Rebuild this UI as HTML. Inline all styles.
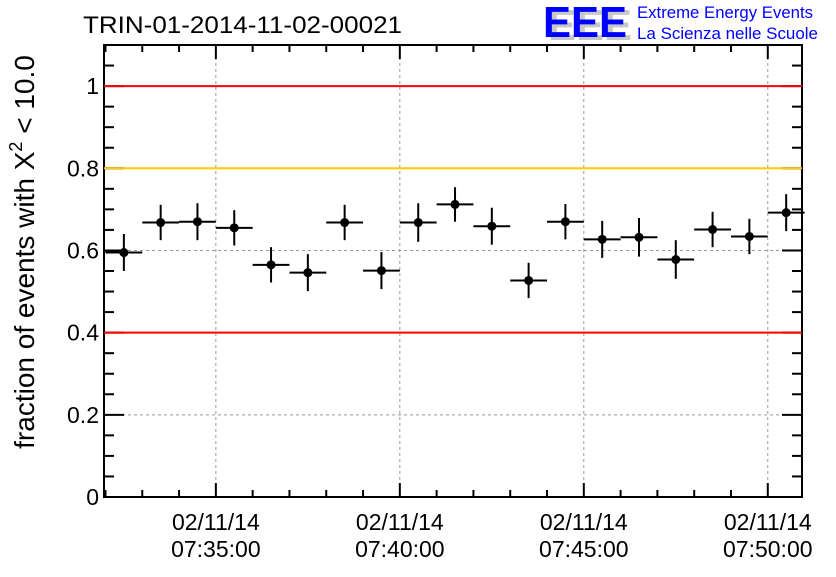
<!DOCTYPE html>
<html><head><meta charset="utf-8"><style>
body{margin:0;background:#fff;}
svg text{font-family:"Liberation Sans",sans-serif;}
</style></head><body>
<svg id="chart" width="836" height="572" xmlns="http://www.w3.org/2000/svg">
<rect width="836" height="572" fill="#fff"/>
<text x="83" y="33" font-size="24" textLength="319" lengthAdjust="spacingAndGlyphs">TRIN-01-2014-11-02-00021</text>
<g>
<text x="548" y="40" font-size="44" font-weight="bold" fill="#c8c8c8" textLength="84" lengthAdjust="spacingAndGlyphs">EEE</text>
<text x="543" y="37" font-size="44" font-weight="bold" fill="#0000ff" textLength="84" lengthAdjust="spacingAndGlyphs">EEE</text>
<text x="637" y="18" font-size="17" fill="#0000ff" textLength="176" lengthAdjust="spacingAndGlyphs">Extreme Energy Events</text>
<text x="637" y="39" font-size="17" fill="#0000ff" textLength="181" lengthAdjust="spacingAndGlyphs">La Scienza nelle Scuole</text>
</g>
<text transform="translate(34,252) rotate(-90)" text-anchor="middle" font-size="28">fraction of events with X<tspan dy="-12" font-size="18">2</tspan><tspan dy="12"> &lt; 10.0</tspan></text>
<g id="grid"></g><g id="axes"></g><g id="refs"></g><g id="marks"></g>
</svg>
<script>
const values=[0.595,0.668,0.670,0.655,0.565,0.546,0.668,0.551,0.668,0.712,0.659,0.527,0.670,0.627,0.632,0.578,0.651,0.634,0.692];
const errors=[0.045,0.043,0.045,0.043,0.043,0.045,0.043,0.045,0.047,0.042,0.045,0.043,0.043,0.045,0.047,0.047,0.043,0.043,0.045];
const yTicks=[0,0.2,0.4,0.6,0.8,1];
const yTickLabels=["0","0.2","0.4","0.6","0.8","1"];
const xTickMinutes=[35,40,45,50];
const xTickLabels=["07:35:00","07:40:00","07:45:00","07:50:00"];
const refLines=[1.0,0.8,0.4];
const refColors=["#ff0000","#ffcc00","#ff0000"];
const X0=104,X1=802,Y0=497,Y1=45;
const tMin=31.96, tMax=50.93;
const xs=t=>X0+(t-tMin)/(tMax-tMin)*(X1-X0);
const ys=v=>Y0-(v-0)/(1.1-0)*(Y0-Y1);
const NS="http://www.w3.org/2000/svg";
function mk(tag,parent,attrs){const e=document.createElementNS(NS,tag);for(const k in attrs)e.setAttribute(k,attrs[k]);document.getElementById(parent).appendChild(e);return e;}
xTickMinutes.forEach(m=>{const g=mk('line','grid',{x1:xs(m),x2:xs(m),y1:Y1,y2:Y0,stroke:'#999','stroke-dasharray':'3,3'});

});
yTicks.forEach(v=>{if(v>0&&v<1){const g=mk('line','grid',{x1:X0,x2:X1,y1:ys(v),y2:ys(v),stroke:'#999','stroke-dasharray':'3,3'});

}});
const fr=mk('rect','axes',{x:X0,y:Y1,width:X1-X0,height:Y0-Y1,fill:'none',stroke:'#000','stroke-width':2});


for(let v=0;v<=1.1001;v+=0.05){const big=Math.abs(v/0.2-Math.round(v/0.2))<1e-6;const L=big?20:10;
mk('line','axes',{x1:X0,x2:X0+L,y1:ys(v),y2:ys(v),stroke:'#000','stroke-width':2});
mk('line','axes',{x1:X1,x2:X1-L,y1:ys(v),y2:ys(v),stroke:'#000','stroke-width':2});}
for(let m=32;m<=50;m++){const big=m%5===0;const L=big?14:7;
mk('line','axes',{x1:xs(m),x2:xs(m),y1:Y0,y2:Y0-L,stroke:'#000','stroke-width':2});
mk('line','axes',{x1:xs(m),x2:xs(m),y1:Y1,y2:Y1+L,stroke:'#000','stroke-width':2});}
yTicks.forEach((v,i)=>{const t=mk('text','axes',{x:X0-5,y:ys(v)+8,'text-anchor':'end','font-size':23});t.textContent=yTickLabels[i];

});
xTickMinutes.forEach((m,i)=>{const t=mk('text','axes',{x:xs(m),y:530,'text-anchor':'middle','font-size':23});t.textContent='02/11/14';


const t2=mk('text','axes',{x:xs(m),y:557,'text-anchor':'middle','font-size':23});t2.textContent=xTickLabels[i];

});
refLines.forEach((v,i)=>{const l=mk('line','refs',{x1:X0,x2:X1,y1:ys(v),y2:ys(v),stroke:refColors[i],'stroke-width':2});

});
values.forEach((v,i)=>{const c=32.5+i;const cx=xs(c),cy=ys(v);
const h=mk('line','marks',{x1:xs(c-0.5),x2:xs(c+0.5),y1:cy,y2:cy,stroke:'#000','stroke-width':2});


const e=mk('line','marks',{x1:cx,x2:cx,y1:ys(v-errors[i]),y2:ys(v+errors[i]),stroke:'#000','stroke-width':2});


const p=mk('circle','marks',{cx:cx,cy:cy,r:4.5,fill:'#000'});

});
</script>
</body></html>
